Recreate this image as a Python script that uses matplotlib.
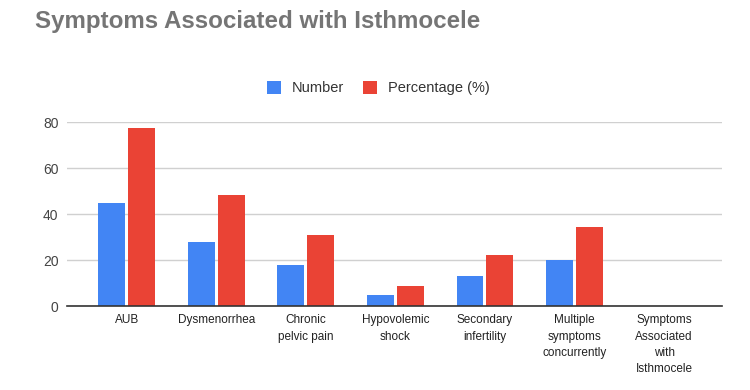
import matplotlib.pyplot as plt
import numpy as np

# Data
categories = ['AUB', 'Dysmenorrhea', 'Chronic\npelvic pain', 'Hypovolemic\nshock',
              'Secondary\ninfertility', 'Multiple\nsymptoms\nconcurrently',
              'Symptoms\nAssociated\nwith\nIsthmocele']
number = [45, 28, 18, 5, 13, 20, 0]
percentage = [77.6, 48.3, 31.0, 8.6, 22.4, 34.5, 0]

plt.rcParams['font.family'] = ['Liberation Sans', 'DejaVu Sans']

fig = plt.figure(figsize=(7.5, 3.9), dpi=100)
ax = fig.add_axes([0.089, 0.215, 0.874, 0.472])

x = np.arange(len(categories))
w = 0.3
ax.bar(x[:6] - w / 2 - 0.017, number[:6], width=w, color='#4285F4', label='Number')
ax.bar(x[:6] + w / 2 + 0.017, percentage[:6], width=w, color='#EA4335', label='Percentage (%)')

ax.set_xlim(-0.67, 6.65)
ax.set_ylim(0, 80)
ax.set_yticks([0, 20, 40, 60, 80])
ax.set_xticks(x)
ax.set_xticklabels(categories, fontsize=8.5, color='#222222', linespacing=1.45)
ax.tick_params(axis='y', labelsize=10, colors='#444444', length=0, pad=6)
ax.tick_params(axis='x', length=0, pad=6)

# Grid and frame
ax.grid(axis='y', color='#d0d0d0', linewidth=1)
ax.set_axisbelow(True)
for side in ['top', 'right', 'left']:
    ax.spines[side].set_visible(False)
ax.spines['bottom'].set_color('#333333')
ax.spines['bottom'].set_linewidth(1.2)

# Title and legend
fig.text(0.047, 0.945, 'Symptoms Associated with Isthmocele', fontsize=17.4,
         fontweight='bold', color='#757575', ha='left', va='center')
fig.legend(loc='center', bbox_to_anchor=(0.504, 0.774), ncol=2, frameon=False,
           fontsize=10.5, handlelength=1.0, handleheight=1.0, columnspacing=1.3,
           handletextpad=0.7, labelcolor='#333333')

plt.savefig('out.png', dpi=100)
